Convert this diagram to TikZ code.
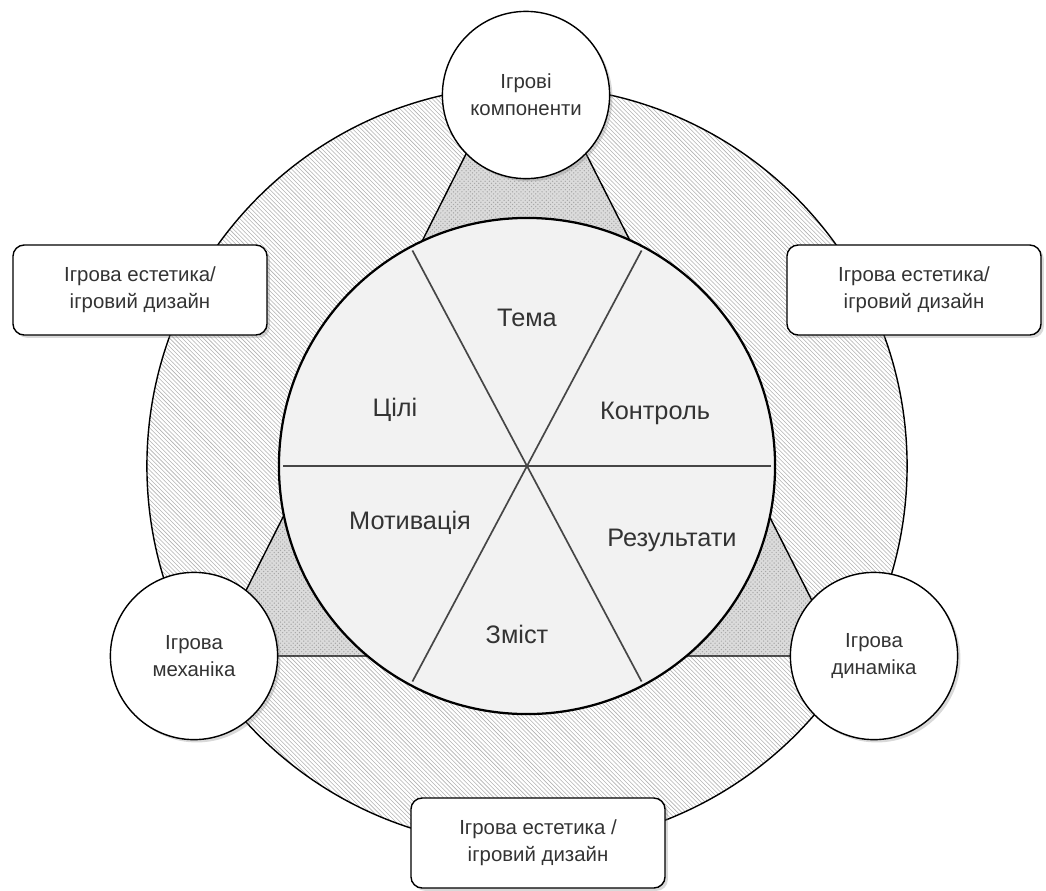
\documentclass[tikz,border=0pt]{standalone}
\usepackage{fontspec}
\setmainfont{Liberation Sans}
\usetikzlibrary{calc}
\usetikzlibrary{patterns}
\usetikzlibrary{shadows}

\definecolor{inktext}{HTML}{333333}
\definecolor{discfill}{HTML}{F2F2F2}

\begin{document}
\begin{tikzpicture}[x=0.025cm,y=-0.025cm,
  bubble/.style={circle,draw=black,line width=1pt,fill=white,minimum size=4.18cm,
    align=center,text=inktext,font=\fontsize{14.5}{19}\selectfont,
    drop shadow={shadow xshift=2pt,shadow yshift=-2pt,opacity=.3}},
  tag/.style={draw=black,line width=1pt,fill=white,rounded corners=8pt,
    minimum width=6.35cm,minimum height=2.25cm,align=center,text=inktext,
    font=\fontsize{14.5}{19}\selectfont,
    drop shadow={shadow xshift=2pt,shadow yshift=-2pt,opacity=.3}},
  part/.style={text=inktext,font=\fontsize{18}{22}\selectfont},
  divider/.style={draw=gray!55!black,line width=1.2pt}]
\useasboundingbox (0,0) rectangle (1046,890);
\coordinate (O) at (527,466);
% outer ring
\draw[line width=1pt,pattern=north west lines,pattern color=gray!60] (O) circle[radius=9.5cm];
% triangle
\draw[line width=1pt,preaction={fill=gray!28},pattern=crosshatch dots,pattern color=gray!70]
  (213,656) -- (526,35) -- (840,656) -- cycle;
% inner disc
\draw[line width=1.6pt,fill=discfill] (O) circle[radius=6.2cm];
\foreach \a in {0,62,118}
 \draw[divider] ($(O)+(\a:6.1cm)$) -- ($(O)+(\a+180:6.1cm)$);
\node[part] (tema) at (527,318) {Тема};
\node[part] (kontrol) at (655,413) {Контроль};
\node[part] (tsili) at (395,410) {Цілі};
\node[part] (motyv) at (410,523) {Мотивація};
\node[part] (rezult) at (672,540) {Результати};
\node[part] (zmist) at (517,634) {Зміст};
% outer elements
\node[bubble] (komp) at (526,95) {Ігрові\\компоненти};
\node[bubble] (mekh) at (194,656) {Ігрова\\механіка};
\node[bubble] (dyn) at (874,656) {Ігрова\\динаміка};
\node[tag] (estl) at (140,290) {Ігрова естетика/\\ігровий дизайн};
\node[tag] (estr) at (914,290) {Ігрова естетика/\\ігровий дизайн};
\node[tag] (estb) at (538,843) {Ігрова естетика /\\ігровий дизайн};
\end{tikzpicture}
\end{document}
